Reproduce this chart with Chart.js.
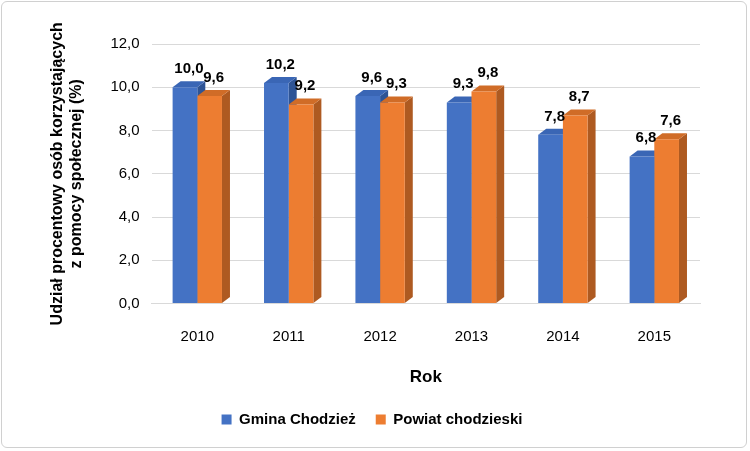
<!DOCTYPE html>
<html><head><meta charset="utf-8">
<script src="https://cdn.jsdelivr.net/npm/chart.js@4"></script>
<style>
html,body{margin:0;padding:0;background:#fff;}
#wrap{position:absolute;left:1px;top:1px;width:746px;height:447px;border:1px solid #d0d0d0;border-radius:6px;box-sizing:border-box;}
</style></head><body>
<div id="wrap"><canvas id="c" width="744" height="445"></canvas></div>
<script>
const categories = ["2010","2011","2012","2013","2014","2015"];
const gmina = [10.0,10.2,9.6,9.3,7.8,6.8];
const powiat = [9.6,9.2,9.3,9.8,8.7,7.6];
const seriesNames = ["Gmina Chodzież","Powiat chodzieski"];
const DX=8, DY=6;
const sideCols=['#2E5495','#AE5A21'], topCols=['#3A66B5','#D06C27'];
const fmt=v=>v.toFixed(1).replace('.',',');
const depth={id:'depth',
 beforeDatasetsDraw(ch){const c=ch.ctx;
  ch.data.datasets.forEach((ds,i)=>{ch.getDatasetMeta(i).data.forEach(b=>{
   const l=b.x-b.width/2,r=b.x+b.width/2,t=b.y,bo=b.base;
   c.fillStyle=sideCols[i];c.beginPath();c.moveTo(r,t);c.lineTo(r+DX,t-DY);c.lineTo(r+DX,bo-DY);c.lineTo(r,bo);c.fill();
   c.fillStyle=topCols[i];c.beginPath();c.moveTo(l,t);c.lineTo(l+DX,t-DY);c.lineTo(r+DX,t-DY);c.lineTo(r,t);c.fill();
  });});},
 afterDatasetsDraw(ch){const c=ch.ctx;c.fillStyle='#000';c.font='bold 15px "Liberation Sans"';c.textAlign='center';c.textBaseline='bottom';
  ch.data.datasets.forEach((ds,i)=>{ch.getDatasetMeta(i).data.forEach((b,j)=>{c.fillText(fmt(ds.data[j]),b.x+DX/2,b.y-DY-5);});});}
};
new Chart(document.getElementById('c'),{type:'bar',
 data:{labels:categories,datasets:[
  {label:seriesNames[0],data:gmina,backgroundColor:'#4472C4',categoryPercentage:0.54,barPercentage:1},
  {label:seriesNames[1],data:powiat,backgroundColor:'#ED7D31',categoryPercentage:0.54,barPercentage:1}]},
 options:{responsive:false,animation:false,
  layout:{padding:{left:42,right:46,top:42,bottom:10}},
  plugins:{tooltip:{enabled:false},
   legend:{position:'bottom',labels:{boxWidth:10,boxHeight:10,color:'#000',font:{family:'Liberation Sans',size:15,weight:'bold'},padding:20}}},
  scales:{
   x:{grid:{display:false},border:{color:'#d9d9d9'},ticks:{color:'#000',font:{family:'Liberation Sans',size:15},padding:16},
      title:{display:true,text:'Rok',color:'#000',font:{family:'Liberation Sans',size:17,weight:'bold'},padding:{top:6}}},
   y:{min:0,max:12,ticks:{stepSize:2,color:'#000',callback:v=>fmt(v),font:{family:'Liberation Sans',size:15},padding:12},
      grid:{color:'#d9d9d9',drawTicks:false},border:{display:false},
      title:{display:true,text:['Udział procentowy osób korzystających','z pomocy społecznej (%)'],color:'#000',font:{family:'Liberation Sans',size:16,weight:'bold'},padding:{bottom:12}}}
  }},
 plugins:[depth]});
</script></body></html>
